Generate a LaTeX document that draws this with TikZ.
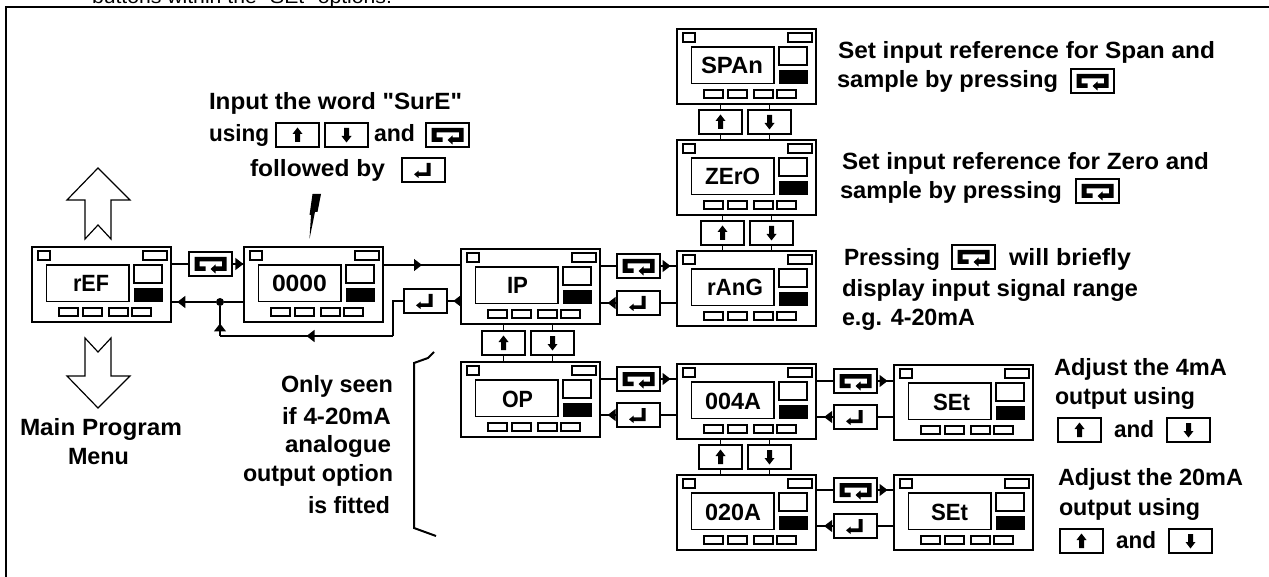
\documentclass[tikz,border=0pt]{standalone}
\usepackage{graphicx}
\usepackage{fontspec}
\setmainfont{Liberation Sans}
\newfontfamily\plainq{Liberation Sans}
\newcommand\qmark{{\plainq\symbol{34}}}
\usetikzlibrary{arrows.meta,decorations.markings}
\newsavebox\lblbox
\newcommand\boldfont{\bfseries\fontsize{23.5}{26}\selectfont}
% name, left x, baseline y, right x, text
\newcommand\lbl[5]{%
  \node[txt] (#1) at (#2,#3) {\sbox\lblbox{\boldfont #5}%
    \pgfmathsetmacro\sx{(#4-#2)/\the\wd\lblbox}%
    \scalebox{\sx}[1]{\usebox\lblbox}};}
% name, x, y, label, label left, label right (relative to the device)
\newcommand\device[6]{%
  \node[dev,anchor=north west] (#1) at (#2,#3) {};
  \begin{scope}[shift={(#2,#3)},inner/.style={line width=1.1pt}]
    \draw[inner] (6,4) rectangle (18,13);
    \draw[inner] (111,4) rectangle (135,13);
    \draw[inner] (14.5,18) rectangle (97,54.5);
    \draw[inner] (102,18) rectangle (130,36);
    \fill (102,41) rectangle (130.5,55);
    \draw[inner] (27,61) rectangle (46,69);
    \draw[inner] (51,61) rectangle (70,69);
    \draw[inner] (77,61) rectangle (96,69);
    \draw[inner] (100,61) rectangle (119,69);
    \lbl{#1-l}{#5}{45}{#6}{#4}
  \end{scope}}
\newcommand\keynode[3]{\node[key,anchor=north west] (#1) at (#2,#3) {};}
\newcommand\upkey[3]{\keynode{#1}{#2}{#3}
  \fill[shift={(#1.center)}] (0,-7.5) -- (5,-1) -- (2.5,-1) -- (2.5,7) -- (-2.5,7) -- (-2.5,-1) -- (-5,-1) -- cycle;}
\newcommand\downkey[3]{\keynode{#1}{#2}{#3}
  \fill[shift={(#1.center)}] (0,7.5) -- (5,1) -- (2.5,1) -- (2.5,-7) -- (-2.5,-7) -- (-2.5,1) -- (-5,1) -- cycle;}
\newcommand\enterkey[3]{\keynode{#1}{#2}{#3}
  \fill[shift={(#1.center)}] (3,-7) -- (7,-7) -- (7,6) -- (-5,6) -- (-5,8) -- (-9.5,4.3) -- (-5,0.7) -- (-5,2.3) -- (3,2.3) -- cycle;}
\newcommand\scrollkey[3]{\keynode{#1}{#2}{#3}
  \fill[shift={(#1.center)}] (-16,-7) -- (16,-7) -- (16,7) -- (5,7) -- (5,9.5) -- (0,5) -- (5,0.5) -- (5,2.5) -- (11.5,2.5) -- (11.5,-2.5) -- (-11,-2.5) -- (-11,2.5) -- (-5,2.5) -- (-5,7) -- (-16,7) -- cycle;}
% from, key, to
\newcommand\fwd[3]{\draw[wire] (#2.west -| #1.east) -- (#2.west);
  \draw[wire,arr=.62] (#2.east) -- (#2.east -| #3.west);}
\newcommand\bwd[3]{\draw[wire,arr=.55] (#2.west) -- (#2.west -| #1.east);
  \draw[wire] (#2.east) -- (#2.east -| #3.west);}
% top, key, bottom
\newcommand\vlink[3]{\draw[wire] (#2.north |- #1.south) -- (#2.north);
  \draw[wire] (#2.south) -- (#2.south |- #3.north);}
\tikzset{
  x=1pt,y=-1pt,
  txt/.style={anchor=base west,inner sep=0pt,outer sep=0pt},
  dev/.style={draw,line width=1.4pt,minimum width=139pt,minimum height=75pt,inner sep=0pt,outer sep=0pt},
  key/.style={draw,line width=1.3pt,minimum width=43pt,minimum height=24pt,inner sep=0pt,outer sep=0pt},
  wire/.style={line width=1.2pt},
  outl/.style={line width=1.2pt},
  arr/.style={postaction={decorate},decoration={markings,mark=at position #1 with {\arrow{Triangle[width=12pt,length=8pt]}}}},
}
\begin{document}
\begin{tikzpicture}
\useasboundingbox (0,0) rectangle (1269,577);
% caption remnant and frame
\node[txt] (cap) at (92,4) {\sbox\lblbox{\fontsize{19}{21}\selectfont buttons within the \qmark SEt\qmark{} options.}%
  \pgfmathsetmacro\sx{300/\the\wd\lblbox}\scalebox{\sx}[1]{\usebox\lblbox}};
\draw[line width=1.4pt] (6,577) -- (6,7) -- (1269,7);
% devices
\device{ref}{32}{247}{rEF}{41}{77}
\device{zero}{244}{247}{0000}{28}{83}
\device{ip}{461}{249}{IP}{46}{67}
\device{op}{461}{362}{OP}{41}{72}
\device{span}{677}{29}{SPAn}{24}{86}
\device{zro}{677}{140}{ZErO}{28}{83}
\device{rang}{677}{251}{rAnG}{30}{86}
\device{a4}{677}{364}{004A}{28}{84}
\device{a20}{677}{475}{020A}{28}{84}
\device{set1}{894}{365}{SEt}{39}{76}
\device{set2}{894}{475}{SEt}{37}{74}
% keys on the flow
\scrollkey{k1}{189}{252}
\enterkey{k2}{404}{289}
\scrollkey{k3}{617}{254}
\enterkey{k4}{617}{291}
\upkey{k5}{482}{331}
\downkey{k6}{531}{331}
\scrollkey{k7}{617}{367}
\enterkey{k8}{617}{403}
\upkey{k9}{699}{110}
\downkey{k10}{748}{110}
\upkey{k11}{701}{221}
\downkey{k12}{750}{221}
\scrollkey{k13}{834}{369}
\enterkey{k14}{834}{405}
\upkey{k15}{699}{445}
\downkey{k16}{748}{445}
\scrollkey{k17}{834}{478}
\enterkey{k18}{834}{514}
% connectors
\coordinate (y1) at (0,265);
\coordinate (y2) at (0,302);
\coordinate (y3) at (0,336);
\coordinate (x1) at (393,0);
\node[circle,fill,inner sep=0pt,minimum size=8pt] (dot) at (220,302) {};
\draw[wire] (ref.east |- k1.west) -- (k1.west);
\draw[wire,arr=.95] (k1.east) -- (k1.east -| zero.west);
\draw[wire,arr=.5] (zero.east |- y1) -- (ip.west |- y1);
\draw[wire,arr=.55] (k2.east -| ip.west) -- (k2.east);
\draw[wire] (zero.west |- y2) -- (dot);
\draw[wire,arr=.86] (dot) -- (dot -| ref.east);
\draw[wire,arr=.5] (x1 |- y3) -- (dot |- y3);
\draw[wire] (k2.west) -- (x1 |- k2.west) -- (x1 |- y3);
\draw[wire,arr=.42] (dot |- y3) -- (dot);
\fwd{ip}{k3}{rang}
\bwd{ip}{k4}{rang}
\vlink{ip}{k5}{op}
\vlink{ip}{k6}{op}
\fwd{op}{k7}{a4}
\bwd{op}{k8}{a4}
\vlink{span}{k9}{zro}
\vlink{span}{k10}{zro}
\vlink{zro}{k11}{rang}
\vlink{zro}{k12}{rang}
\fwd{a4}{k13}{set1}
\bwd{a4}{k14}{set1}
\vlink{a4}{k15}{a20}
\vlink{a4}{k16}{a20}
\fwd{a20}{k17}{set2}
\bwd{a20}{k18}{set2}
% big arrows, flash, bracket
\draw[outl] (98,168) -- (130,200) -- (111,200) -- (111,239) -- (98,225) -- (85,239) -- (85,200) -- (67,200) -- cycle;
\draw[outl] (98,408) -- (130,376) -- (111,376) -- (111,338) -- (98,352) -- (85,338) -- (85,376) -- (67,376) -- cycle;
\fill (312.5,194) -- (321,194) -- (317.5,212) -- (315,212) -- (309.5,239) -- (311,215) -- (309.5,215) -- cycle;
\draw[line width=2pt] (434,352) -- (428,358) -- (414,363) -- (414,528) -- (436,536);
% texts
\lbl{t1}{209}{110}{462}{Input the word \qmark SurE\qmark}
\lbl{t2}{209}{142}{269}{using}
\upkey{t2a}{276}{123}
\downkey{t2b}{325}{123}
\lbl{t2c}{374}{142}{415}{and}
\scrollkey{t2d}{426}{123}
\lbl{t3}{250}{177}{385}{followed by}
\enterkey{t3a}{402}{158}
\lbl{m1}{20}{435}{182}{Main Program}
\lbl{m2}{68}{464}{129}{Menu}
\lbl{o1}{281}{392}{393}{Only seen}
\lbl{o2}{282}{424}{391}{if 4-20mA}
\lbl{o3}{285}{452}{391}{analogue}
\lbl{o4}{243}{481}{393}{output option}
\lbl{o5}{308}{513}{390}{is fitted}
\lbl{s1}{838}{59}{1215}{Set input reference for Span and}
\lbl{s2}{837}{88}{1058}{sample by pressing}
\scrollkey{s2a}{1071}{69}
\lbl{z1}{842}{170}{1209}{Set input reference for Zero and}
\lbl{z2}{840}{199}{1062}{sample by pressing}
\scrollkey{z2a}{1076}{179}
\lbl{r1}{844}{266}{940}{Pressing}
\scrollkey{r1a}{952}{245}
\lbl{r1b}{1009}{266}{1131}{will briefly}
\lbl{r2}{842}{297}{1138}{display input signal range}
\lbl{r3}{842}{326}{975}{e.g. 4-20mA}
\lbl{a1}{1054}{375}{1227}{Adjust the 4mA}
\lbl{a2}{1055}{404}{1195}{output using}
\upkey{a3}{1058}{418}
\lbl{a3b}{1114}{437}{1154}{and}
\downkey{a3c}{1167}{418}
\lbl{b1}{1058}{485}{1243}{Adjust the 20mA}
\lbl{b2}{1059}{515}{1200}{output using}
\upkey{b3}{1060}{529}
\lbl{b3b}{1116}{548}{1156}{and}
\downkey{b3c}{1169}{529}
\end{tikzpicture}
\end{document}
